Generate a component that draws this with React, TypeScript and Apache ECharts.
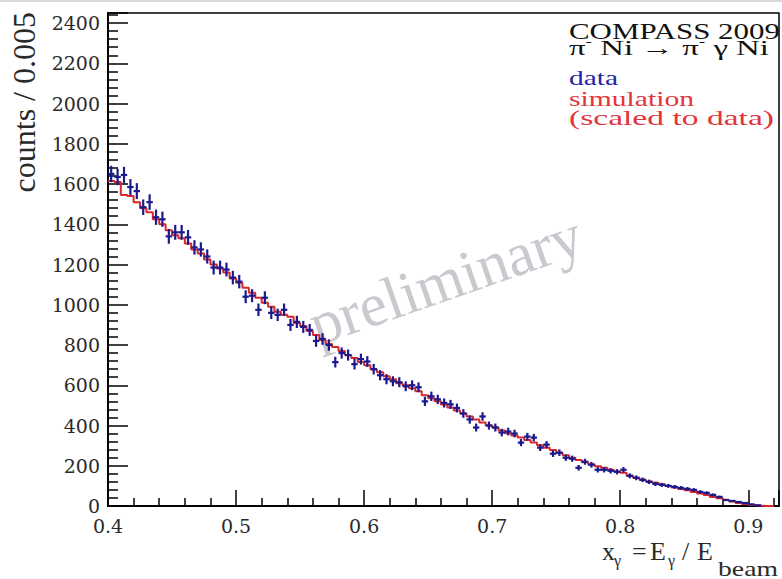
import React, { useEffect, useRef } from "react";
import * as echarts from "echarts";

// ---- data (counts per 0.005 bin, starting at x = 0.4) ----
const X_START = 0.4;
const BIN_WIDTH = 0.005;

const dataCounts = [
  1650, 1635, 1645, 1585, 1565, 1485, 1510, 1435, 1425, 1340,
  1360, 1360, 1335, 1285, 1275, 1240, 1185, 1185, 1175, 1135,
  1115, 1040, 1045, 975, 1035, 960, 950, 975, 900, 915,
  890, 875, 820, 830, 800, 715, 760, 750, 705, 730,
  718, 680, 650, 630, 620, 615, 595, 600, 590, 520,
  545, 530, 512, 505, 487, 460, 430, 390, 445, 400,
  390, 365, 370, 360, 315, 345, 340, 290, 305, 260,
  265, 240, 235, 190, 220, 205, 180, 180, 175, 170,
  180, 150, 140, 130, 120, 110, 105, 100, 95, 90,
  85, 80, 70, 65, 55, 45, 30, 25, 20, 15,
  8, 3,
];

const simCounts = [
  1615, 1610, 1545, 1540, 1510, 1480, 1460, 1425, 1400, 1370,
  1345, 1330, 1305, 1275, 1255, 1225, 1200, 1180, 1160, 1130,
  1110, 1085, 1060, 1035, 1010, 990, 965, 950, 940, 910,
  895, 870, 850, 825, 805, 790, 770, 750, 735, 715,
  700, 680, 665, 645, 630, 610, 600, 585, 570, 550,
  535, 520, 505, 490, 475, 460, 445, 430, 415, 400,
  390, 375, 362, 350, 340, 328, 315, 302, 290, 278,
  265, 252, 240, 228, 218, 208, 198, 190, 180, 172,
  165, 150, 140, 130, 122, 115, 108, 100, 92, 85,
  78, 70, 62, 55, 45, 38, 30, 22, 15, 10,
  5, 2, 0, 0,
];

const xTickLabels = ["0.4", "0.5", "0.6", "0.7", "0.8", "0.9"];
const yTickLabels = ["0", "200", "400", "600", "800", "1000", "1200", "1400", "1600", "1800", "2000", "2200", "2400"];

const BLUE = "#1a1a8e";
const RED = "#d8282c";
const SERIF = "Liberation Serif";

function measure(text: string, size: number, family = SERIF) {
  const c = document.createElement("canvas").getContext("2d");
  if (!c) return text.length * size * 0.5;
  c.font = `${size}px "${family}"`;
  return c.measureText(text).width;
}

export default function App() {
  const ref = useRef<HTMLDivElement>(null);

  useEffect(() => {
    if (!ref.current) return;
    const chart = echarts.init(ref.current, null, { renderer: "svg" });

    const points = dataCounts.map((v, i) => [X_START + (i + 0.5) * BIN_WIDTH, v]);
    const simLine = simCounts.map((v, i) => [X_START + i * BIN_WIDTH, v]);
    simLine.push([X_START + simCounts.length * BIN_WIDTH, 0]);

    const legendLines = [
      { text: "COMPASS 2009", color: "#111111", base: 39, size: 22.5, width: 211 },
      { text: "data", color: "#2424a6", base: 85, size: 22, width: 49 },
      { text: "simulation", color: "#e2343a", base: 106, size: 22, width: 125 },
      { text: "(scaled to data)", color: "#e2343a", base: 125, size: 22, width: 205 },
    ];
    const LX = 569;
    const WM = 61;
    const WA = 0.335;
    const graphics: any[] = [
      { type: "rect", shape: { x: 0, y: 0, width: 782, height: 2 }, style: { fill: "#d9d9d9" }, silent: true },
      {
        type: "text",
        x: 318 - 0.34 * WM * Math.sin(WA),
        y: 346 - 0.34 * WM * Math.cos(WA),
        rotation: WA,
        style: { text: "preliminary", fontSize: WM, fontFamily: SERIF, fill: "#c8cad0", align: "left", verticalAlign: "middle" },
        silent: true,
      },
      {
        type: "text",
        x: 24,
        y: 12,
        rotation: Math.PI / 2,
        style: { text: "counts / 0.005", fontSize: 32, fontFamily: SERIF, fill: "#2a2a2a", align: "right", verticalAlign: "middle" },
      },
    ];
    legendLines.forEach((l) => {
      const natural = measure(l.text, l.size);
      graphics.push({
        type: "text",
        x: LX,
        y: l.base - 0.34 * l.size,
        scaleX: l.width / natural,
        style: { text: l.text, fontSize: l.size, fontFamily: SERIF, fill: l.color, align: "left", verticalAlign: "middle" },
      });
    });
    // reaction line with superscripts
    {
      const size = 22;
      const sup = 13;
      const natural =
        measure("π", size) + measure("-", sup) + measure(" Ni → π", size) + measure("-", sup) + measure(" γ Ni", size);
      graphics.push({
        type: "text",
        x: LX,
        y: 55 - 0.34 * size,
        scaleX: 200 / natural,
        style: {
          text: "{m|π}{s|-}{m| Ni → π}{s|-}{m| γ Ni}",
          align: "left",
          verticalAlign: "middle",
          fill: "#111111",
          rich: {
            m: { fontSize: size, fontFamily: SERIF, lineHeight: 24, fill: "#111111" },
            s: { fontSize: sup, fontFamily: SERIF, lineHeight: 13, verticalAlign: "top", fill: "#111111" },
          },
        },
      });
    }
    // x-axis title pieces
    const titlePieces = [
      { t: "x", x: 602, base: 560, f: 26 },
      { t: "γ", x: 614, base: 566, f: 16 },
      { t: "=", x: 632, base: 560, f: 26 },
      { t: "E", x: 650, base: 560, f: 26 },
      { t: "γ", x: 668, base: 566, f: 16 },
      { t: "/", x: 682, base: 560, f: 26 },
      { t: "E", x: 697, base: 560, f: 26 },
      { t: "beam", x: 718, base: 576, f: 21, w: 60 },
    ];
    titlePieces.forEach((p: any) => {
      graphics.push({
        type: "text",
        x: p.x,
        y: p.base - 0.34 * p.f,
        scaleX: p.w ? p.w / measure(p.t, p.f) : 1,
        style: { text: p.t, fontSize: p.f, fontFamily: SERIF, fill: "#2a2a2a", align: "left", verticalAlign: "middle" },
      });
    });

    const tickFont = { fontFamily: "DejaVu Serif", fontSize: 19, color: "#2a2a2a" };

    chart.setOption({
      animation: false,
      backgroundColor: "#ffffff",
      grid: {
        left: 108,
        right: 2,
        top: 13,
        bottom: 73,
        show: true,
        borderColor: "#000",
        borderWidth: 1.5,
        backgroundColor: "transparent",
      },
      xAxis: {
        type: "value",
        min: 0.4,
        max: 0.924,
        interval: 0.1,
        axisLine: { show: true, onZero: false, lineStyle: { color: "#000", width: 2 } },
        axisTick: { show: true, inside: true, length: 16, lineStyle: { color: "#000", width: 1.5 } },
        minorTick: { show: true, splitNumber: 5, length: 8, lineStyle: { color: "#000", width: 1.5 } },
        splitLine: { show: false },
        minorSplitLine: { show: false },
        axisLabel: {
          ...tickFont,
          margin: 10,
          formatter: (v: number) => {
            const s = v.toFixed(1);
            return Math.abs(v - parseFloat(s)) < 1e-6 && xTickLabels.includes(s) ? s : "";
          },
        },
      },
      yAxis: {
        type: "value",
        min: 0,
        max: 2450,
        interval: 200,
        axisLine: { show: true, lineStyle: { color: "#000", width: 2 } },
        axisTick: { show: true, inside: true, length: 20, lineStyle: { color: "#000", width: 1.5 } },
        minorTick: { show: true, splitNumber: 5, length: 10, lineStyle: { color: "#000", width: 1.5 } },
        splitLine: { show: false },
        axisLabel: {
          ...tickFont,
          margin: 8,
          formatter: (v: number) => {
            const r = Math.round(v);
            return Math.abs(v - r) < 1e-6 && yTickLabels.includes(String(r)) ? String(r) : "";
          },
        },
      },
      series: [
        {
          type: "line",
          name: "simulation",
          data: simLine,
          step: "end",
          showSymbol: false,
          symbol: "none",
          lineStyle: { color: RED, width: 2 },
          z: 2,
        },
        {
          type: "custom",
          name: "data",
          data: points,
          encode: { x: 0, y: 1 },
          z: 3,
          renderItem: (_params: any, api: any) => {
            const x = api.value(0);
            const y = api.value(1);
            const e = Math.sqrt(Math.max(y, 0));
            const l = api.coord([x - BIN_WIDTH / 2, y]);
            const r = api.coord([x + BIN_WIDTH / 2, y]);
            const t = api.coord([x, y + e]);
            const b = api.coord([x, y - e]);
            return {
              type: "group",
              children: [
                { type: "line", shape: { x1: l[0], y1: l[1], x2: r[0], y2: r[1] }, style: { stroke: BLUE, lineWidth: 2.2 } },
                { type: "line", shape: { x1: t[0], y1: t[1], x2: b[0], y2: b[1] }, style: { stroke: BLUE, lineWidth: 2.2 } },
              ],
            };
          },
        },
      ],
      graphic: graphics,
    });

    return () => chart.dispose();
  }, []);

  return (
    <div
      ref={ref}
      style={{ position: "absolute", left: 0, top: 0, width: 782, height: 579, background: "#fff" }}
    />
  );
}
